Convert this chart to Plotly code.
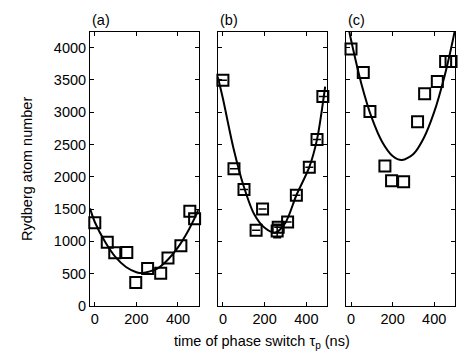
# Rydberg atom number vs phase switch time, three panels (a)-(c)

import plotly.graph_objects as go

# Panel (a) data
t_a = [0, 60, 96, 154, 197, 254, 317, 352, 414, 457, 480]
n_a = [1290, 985, 823, 829, 363, 580, 508, 741, 932, 1466, 1351]
fit_t_a = [-23, 0, 50, 100, 150, 200, 230, 300, 350, 400, 450, 500]
fit_n_a = [1510, 1300, 990, 755, 603, 523, 510, 579, 712, 906, 1168, 1494]

# Panel (b) data
t_b = [0, 53, 101, 159, 190, 260, 265, 310, 352, 414, 451, 479]
n_b = [3494, 2123, 1801, 1171, 1502, 1160, 1220, 1300, 1714, 2149, 2578, 3241]
err_b = [0, 0, 0, 0, 0, 105, 0, 0, 0, 0, 0, 0]
fit_t_b = [-24, 0, 50, 100, 150, 200, 250, 300, 352, 414, 451, 490]
fit_n_b = [3540, 3210, 2450, 1850, 1420, 1210, 1135, 1290, 1714, 2149, 2578, 3396]

# Panel (c) data
t_c = [0, 59, 91, 163, 195, 253, 320, 354, 415, 455, 481]
n_c = [3976, 3614, 3008, 2165, 1937, 1921, 2853, 3283, 3474, 3785, 3785]
fit_t_c = [-10, 0, 50, 100, 150, 200, 245, 300, 350, 400, 450, 480, 500]
fit_n_c = [4274, 4119, 3437, 2910, 2538, 2321, 2258, 2352, 2600, 3003, 3561, 3970, 4274]

y_ticks = [0, 500, 1000, 1500, 2000, 2500, 3000, 3500, 4000]
x_ticks = [0, 200, 400]
panel_labels = ['(a)', '(b)', '(c)']

panels = [
    (t_a, n_a, None, fit_t_a, fit_n_a),
    (t_b, n_b, err_b, fit_t_b, fit_n_b),
    (t_c, n_c, None, fit_t_c, fit_n_c),
]

domains = [[0, 0.298], [0.351, 0.650], [0.702, 1.0]]
font = dict(family='Liberation Sans, Arial, sans-serif', size=14.5, color='black')

fig = go.Figure()

for i, (t, n, err, ft, fn) in enumerate(panels):
    xa = 'x' if i == 0 else 'x%d' % (i + 1)
    ya = 'y' if i == 0 else 'y%d' % (i + 1)
    fig.add_trace(go.Scatter(x=ft, y=fn, mode='lines',
                             line=dict(color='black', width=2, shape='spline', smoothing=0.8),
                             xaxis=xa, yaxis=ya, hoverinfo='skip'))
    sc = dict(x=t, y=n, mode='markers', xaxis=xa, yaxis=ya, cliponaxis=False,
              marker=dict(symbol='square-open', size=11, color='black', line=dict(width=2)))
    if err is not None:
        sc['error_y'] = dict(type='data', array=err, color='black', thickness=1.5, width=4)
    fig.add_trace(go.Scatter(**sc))

axis_common = dict(showline=True, linecolor='black', linewidth=1, mirror='ticks', ticks='inside',
                   ticklen=4, tickcolor='black', showgrid=False, zeroline=False, tickfont=font)

layout = dict(width=469, height=354, margin=dict(l=82, r=22, t=24, b=56),
              plot_bgcolor='white', paper_bgcolor='white', showlegend=False, font=font)

for i in range(3):
    sx = '' if i == 0 else str(i + 1)
    layout['xaxis' + sx] = dict(axis_common, domain=domains[i], range=[-23, 500], tickvals=x_ticks,
                                anchor='y' + sx)
    layout['yaxis' + sx] = dict(axis_common, range=[0, 4240], tickvals=y_ticks, anchor='x' + sx,
                                showticklabels=(i == 0))

fig.update_layout(**layout)

annotations = []
for i, lab in enumerate(panel_labels):
    annotations.append(dict(text=lab, xref='paper', yref='paper', x=domains[i][0], y=1,
                            xanchor='left', yanchor='bottom', yshift=2, showarrow=False, font=font))
annotations.append(dict(text='time of phase switch \u03c4<sub>p</sub> (ns)', xref='paper', yref='paper',
                        x=0.47, y=0, yshift=-25, xanchor='center', yanchor='top', showarrow=False, font=font))
annotations.append(dict(text='Rydberg atom number', xref='paper', yref='paper', x=0, xshift=-63,
                        y=0.5, textangle=-90, xanchor='center', yanchor='middle', showarrow=False, font=font))
fig.update_layout(annotations=annotations)

fig.write_html("out.html")
